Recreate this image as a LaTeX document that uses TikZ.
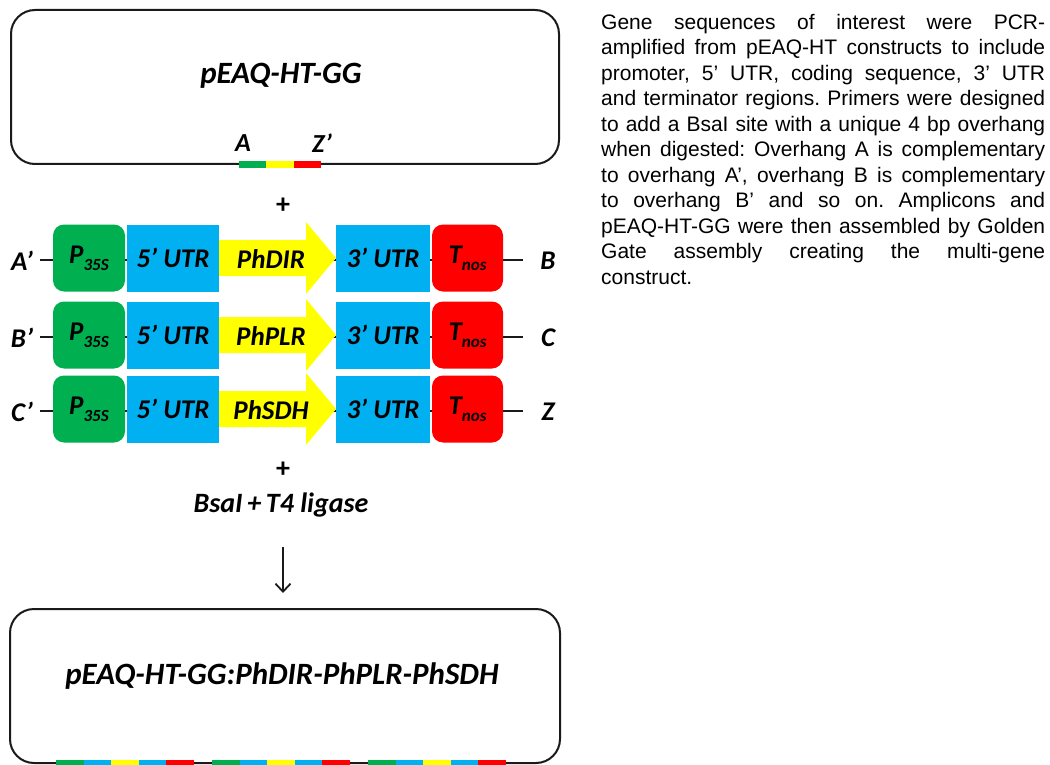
\documentclass[tikz,border=0pt]{standalone}
\usepackage{fontspec}
\newfontfamily\calfont{Carlito}
\newfontfamily\arialfont{Liberation Sans}
\usetikzlibrary{arrows.meta}
\definecolor{ggreen}{HTML}{00B050}
\definecolor{gblue}{HTML}{00B0F0}
\definecolor{gyellow}{HTML}{FFFF00}
\definecolor{gred}{HTML}{FF0000}
\definecolor{lineblack}{HTML}{1A1A1A}
\tikzset{
  lab/.style={font=\calfont\bfseries\itshape\fontsize{27}{30}\selectfont, inner sep=0pt, text=black},
  biglab/.style={font=\calfont\bfseries\itshape\fontsize{31}{34}\selectfont, inner sep=0pt, text=black},
  plusstyle/.style={font=\calfont\bfseries\fontsize{28}{30}\selectfont, inner sep=0pt},
  blk/.style={lab, minimum height=67pt, anchor=center},
  prom/.style={blk, fill=ggreen, rounded corners=11pt, minimum width=72pt},
  utr/.style={blk, fill=gblue, minimum width=92pt},
  term/.style={blk, fill=gred, rounded corners=11pt, minimum width=71pt},
  vector/.style={draw=lineblack, line width=2pt, rounded corners=24pt, inner sep=0pt},
  bb/.style={line width=2pt, draw=lineblack},
}
\newcommand{\subtxt}[1]{\raisebox{-7pt}{\fontsize{17}{17}\selectfont #1}}
\begin{document}
\begin{tikzpicture}[x=1pt,y=-1pt]
\useasboundingbox (0,0) rectangle (1050,765);
\fill[white] (0,0) rectangle (1050,765);

% top vector
\node[vector, minimum width=548pt, minimum height=154pt] (topvec) at (285,87) {};
\node[biglab] (toptitle) at (281,76) {pEAQ-HT-GG};
\node[lab, font=\calfont\bfseries\itshape\fontsize{26}{28}\selectfont] (labA) at (243,143) {A};
\node[lab, font=\calfont\bfseries\itshape\fontsize{26}{28}\selectfont] (labZ) at (322,143) {Z’};
\fill[ggreen] (239,161) rectangle (266,168);
\fill[gyellow] (266,161) rectangle (294,168);
\fill[gred] (294,161) rectangle (321,168);

\node[plusstyle] (plus1) at (283,206) {+};

% rows
\foreach \y/\gene/\l/\r/\i in {258/PhDIR/A’/B/1, 335/PhPLR/B’/C/2, 409/PhSDH/C’/Z/3}{
  \coordinate (la\i) at (40,\y+2);
  \coordinate (rb\i) at (523,\y+2);
  \draw[bb] (la\i) -- (rb\i);
  \node[lab] (L\i) at (22,\y+3) {\l};
  \node[lab] (R\i) at (548,\y+3) {\r};
  \node[prom] (P\i) at (89,\y) {P\subtxt{35S}};
  \node[utr] (U\i) at (173,\y) {5’ UTR};
  \fill[gyellow] (219,\y-18) -- (306,\y-18) -- (306,\y-36) -- (336,\y) -- (306,\y+36) -- (306,\y+18) -- (219,\y+18) -- cycle;
  \node[lab] (G\i) at (271,\y+1) {\gene};
  \node[utr, minimum width=94pt] (V\i) at (383,\y) {3’ UTR};
  \node[term] (T\i) at (467.5,\y) {T\subtxt{nos}};
}

\node[plusstyle] (plus2) at (283,470) {+};
\node[lab, font=\calfont\bfseries\itshape\fontsize{28}{30}\selectfont] (enz) at (281,505) {BsaI\,+\,T4 ligase};
\coordinate (ar1) at (283,547);
\coordinate (ar2) at (283,593);
\draw[line width=1.8pt, lineblack, -{Straight Barb[length=8pt,width=15pt,line width=1.8pt]}] (ar1) -- (ar2);

% bottom vector
\node[vector, minimum width=550pt, minimum height=154pt] (botvec) at (285,686) {};
\node[biglab] (bottitle) at (282,676) {pEAQ-HT-GG:PhDIR-PhPLR-PhSDH};
\foreach \x in {56,212,368}{
  \fill[ggreen] (\x,760) rectangle (\x+27.6,767);
  \fill[gblue] (\x+27.6,760) rectangle (\x+55.2,767);
  \fill[gyellow] (\x+55.2,760) rectangle (\x+82.8,767);
  \fill[gblue] (\x+82.8,760) rectangle (\x+110.4,767);
  \fill[gred] (\x+110.4,760) rectangle (\x+138,767);
}

% caption text
\node[anchor=north west, inner sep=0pt, font=\arialfont\fontsize{21}{25.5}\selectfont] (caption) at (601,14) {%
\parbox[t]{444pt}{\frenchspacing\baselineskip=25.5pt
\hbox to 444pt{Gene sequences of interest were PCR-}
\hbox to 444pt{amplified from pEAQ-HT constructs to include}
\hbox to 444pt{promoter, 5’ UTR, coding sequence, 3’ UTR}
\hbox to 444pt{and terminator regions. Primers were designed}
\hbox to 444pt{to add a BsaI site with a unique 4 bp overhang}
\hbox to 444pt{when digested: Overhang A is complementary}
\hbox to 444pt{to overhang A’, overhang B is complementary}
\hbox to 444pt{to overhang B’ and so on. Amplicons and}
\hbox to 444pt{pEAQ-HT-GG were then assembled by Golden}
\hbox to 444pt{Gate assembly creating the multi-gene}
\hbox{construct.}}};
\end{tikzpicture}
\end{document}
